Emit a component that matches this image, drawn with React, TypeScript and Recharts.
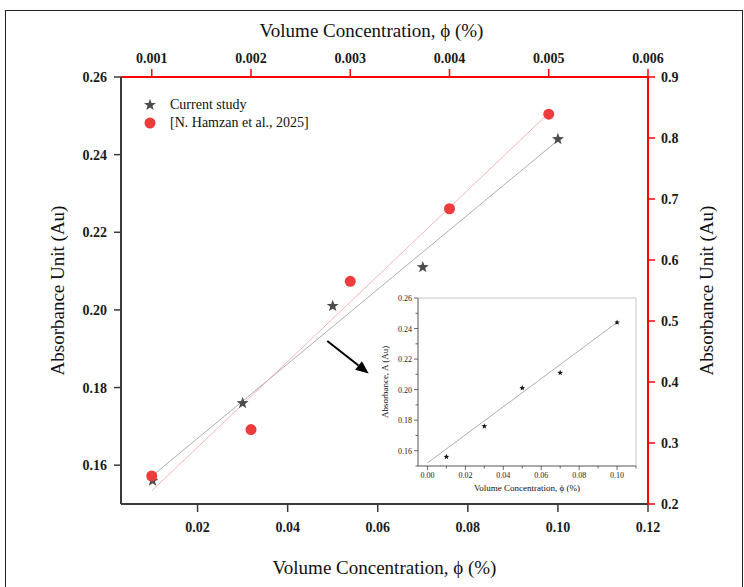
import { type ReactElement } from 'react'
import {
  ScatterChart,
  Scatter,
  XAxis,
  YAxis,
  Legend,
  ReferenceLine,
} from 'recharts'

const SERIF = '"Liberation Serif", "Times New Roman", serif'
const X_TITLE = 'Volume Concentration,  \u03d5 (%)'
const Y_TITLE = 'Absorbance Unit (Au)'

// current study (bottom x / left y)
const currentX = [0.01, 0.03, 0.05, 0.07, 0.1]
const currentY = [0.156, 0.176, 0.201, 0.211, 0.244]
// N. Hamzan et al. (top x / right y)
const hamzanX = [0.001, 0.002, 0.003, 0.004, 0.005]
const hamzanY = [0.246, 0.322, 0.565, 0.684, 0.839]

// linear fit ends
const currentFitX = [0.01, 0.1]
const currentFitY = [0.1573, 0.2437]
const hamzanFitX = [0.001, 0.005]
const hamzanFitY = [0.2216, 0.8408]
const insetFitX = [0, 0.1]
const insetFitY = [0.152, 0.244]

const bottomTicks = [0.02, 0.04, 0.06, 0.08, 0.1, 0.12]
const topTicks = [0.001, 0.002, 0.003, 0.004, 0.005, 0.006]
const leftTicks = [0.16, 0.18, 0.2, 0.22, 0.24, 0.26]
const rightTicks = [0.2, 0.3, 0.4, 0.5, 0.6, 0.7, 0.8, 0.9]
const insetXTicks = [0, 0.01, 0.02, 0.03, 0.04, 0.05, 0.06, 0.07, 0.08, 0.09, 0.1, 0.11]
const insetYTicks = [0.15, 0.16, 0.17, 0.18, 0.19, 0.2, 0.21, 0.22, 0.23, 0.24, 0.25, 0.26]

const toPoints = (xs: number[], ys: number[]) => xs.map((x, i) => ({ x, y: ys[i] }))

const currentData = toPoints(currentX, currentY)
const hamzanData = toPoints(hamzanX, hamzanY)
const currentFit = toPoints(currentFitX, currentFitY)
const hamzanFit = toPoints(hamzanFitX, hamzanFitY)
const insetFit = toPoints(insetFitX, insetFitY)

const STAR = '#4d4d4d'
const RED = '#ee3b3b'
const DARK = '#3a3a3a'

function starPoints(cx: number, cy: number, R: number, r: number): string {
  const pts: string[] = []
  for (let i = 0; i < 10; i++) {
    const a = -Math.PI / 2 + (i * Math.PI) / 5
    const rad = i % 2 === 0 ? R : r
    pts.push(`${cx + rad * Math.cos(a)},${cy + rad * Math.sin(a)}`)
  }
  return pts.join(' ')
}

const StarMark = (p: any) => <polygon points={starPoints(p.cx, p.cy, 6.3, 2.6)} fill={STAR} />
const SmallStar = (p: any) => <polygon points={starPoints(p.cx, p.cy, 3, 1.25)} fill="#111" />
const Dot = (p: any) => <circle cx={p.cx} cy={p.cy} r={5.5} fill={RED} />
const NoMark = () => <g />

const tickStyle = { fill: '#1a1a1a', fontSize: 14, fontWeight: 'bold', fontFamily: SERIF }
const titleProps = { fontFamily: SERIF, fontSize: 19, fill: '#111' }

const renderLegend = () => (
  <div style={{ fontFamily: SERIF, fontSize: 14, color: '#111', lineHeight: '18px' }}>
    <div style={{ display: 'flex', alignItems: 'center', height: 18 }}>
      <svg width={18} height={18}>
        <polygon points={starPoints(9, 9, 6.3, 2.6)} fill={STAR} />
      </svg>
      <span style={{ marginLeft: 11 }}>Current study</span>
    </div>
    <div style={{ display: 'flex', alignItems: 'center', height: 18 }}>
      <svg width={18} height={18}>
        <circle cx={9} cy={9} r={5.5} fill={RED} />
      </svg>
      <span style={{ marginLeft: 11 }}>[N. Hamzan et al., 2025]</span>
    </div>
  </div>
)

const Arrow = (p: any) => {
  const { x1, y1, x2, y2 } = p
  const ang = Math.atan2(y2 - y1, x2 - x1)
  const len = 13
  const w = 5.5
  const bx = x2 - len * Math.cos(ang)
  const by = y2 - len * Math.sin(ang)
  const nx = -Math.sin(ang) * w
  const ny = Math.cos(ang) * w
  return (
    <g>
      <line x1={x1} y1={y1} x2={bx} y2={by} stroke="#000" strokeWidth={2} />
      <polygon points={`${x2},${y2} ${bx + nx},${by + ny} ${bx - nx},${by - ny}`} fill="#000" />
    </g>
  )
}

const InsetXTick = (p: any) => {
  const v = p.payload.value
  const major = Math.round(v * 100) % 2 === 0
  return (
    <g>
      <line x1={p.x} x2={p.x} y1={p.y} y2={p.y + (major ? 4 : 2.5)} stroke="#444" strokeWidth={0.8} />
      {major && (
        <text x={p.x} y={p.y + 12} textAnchor="middle" fontSize={8} fontFamily={SERIF} fill="#222">
          {v.toFixed(2)}
        </text>
      )}
    </g>
  )
}

const InsetYTick = (p: any) => {
  const v = p.payload.value
  const major = Math.round(v * 100) % 2 === 0
  return (
    <g>
      <line x1={p.x - (major ? 4 : 2.5)} x2={p.x} y1={p.y} y2={p.y} stroke="#444" strokeWidth={0.8} />
      {major && (
        <text x={p.x - 6} y={p.y + 3} textAnchor="end" fontSize={8} fontFamily={SERIF} fill="#222">
          {v.toFixed(2)}
        </text>
      )}
    </g>
  )
}

function Inset(): ReactElement {
  return (
    <div style={{ position: 'absolute', left: 370, top: 288, width: 270, height: 210 }}>
      <ScatterChart width={270} height={210} margin={{ top: 10, right: 4, bottom: 0, left: 0 }}>
        <XAxis
          dataKey="x"
          type="number"
          domain={[-0.005, 0.11]}
          ticks={insetXTicks}
          interval={0}
          allowDataOverflow
          height={32}
          tickSize={0}
          tickMargin={0}
          tickLine={false}
          axisLine={{ stroke: '#555', strokeWidth: 1 }}
          tick={InsetXTick}
          label={{
            value: 'Volume Concentration, \u03d5 (%)',
            position: 'insideBottom',
            offset: 7,
            style: { fontFamily: SERIF, fontSize: 9, fill: '#111' },
          }}
        />
        <YAxis
          dataKey="y"
          type="number"
          domain={[0.15, 0.26]}
          ticks={insetYTicks}
          interval={0}
          allowDataOverflow
          width={48}
          tickSize={0}
          tickMargin={0}
          tickLine={false}
          axisLine={{ stroke: '#555', strokeWidth: 1 }}
          tick={InsetYTick}
          label={(props: any) => {
            const vb = props.viewBox
            const cx = vb.x + 15
            const cy = vb.y + vb.height / 2
            return (
              <text
                x={cx}
                y={cy}
                transform={`rotate(-90 ${cx} ${cy})`}
                textAnchor="middle"
                dominantBaseline="central"
                fontFamily={SERIF}
                fontSize={9}
                fill="#111"
              >
                Absorbance, A (Au)
              </text>
            )
          }}
        />
        <ReferenceLine y={0.26} stroke="#c8c8c8" strokeWidth={1} />
        <ReferenceLine x={0.11} stroke="#c8c8c8" strokeWidth={1} />
        <Scatter
          data={insetFit}
          line={{ stroke: '#8a8a8a', strokeWidth: 0.7 }}
          shape={NoMark}
          isAnimationActive={false}
        />
        <Scatter data={currentData} shape={SmallStar} isAnimationActive={false} />
      </ScatterChart>
    </div>
  )
}

export default function App(): ReactElement {
  return (
    <div
      style={{
        position: 'absolute',
        left: 0,
        top: 0,
        width: 744,
        height: 587,
        overflow: 'hidden',
        background: '#fff',
      }}
    >
      <div
        style={{
          position: 'absolute',
          left: 5,
          top: 10,
          width: 738,
          height: 620,
          border: '1px solid #222',
          boxSizing: 'border-box',
        }}
      />
      <ScatterChart width={744} height={587} margin={{ top: 0, right: 0, bottom: 0, left: 0 }}>
        <XAxis
          xAxisId="bottom"
          dataKey="x"
          type="number"
          orientation="bottom"
          domain={[0.003, 0.12]}
          ticks={bottomTicks}
          interval={0}
          allowDataOverflow
          height={83}
          tickSize={8}
          tickMargin={10}
          tickFormatter={(v: number) => v.toFixed(2)}
          tick={tickStyle}
          axisLine={{ stroke: DARK, strokeWidth: 2 }}
          tickLine={{ stroke: DARK, strokeWidth: 1.5 }}
          label={{ value: X_TITLE, position: 'insideBottom', offset: 13, style: titleProps }}
        />
        <XAxis
          xAxisId="top"
          dataKey="x"
          type="number"
          orientation="top"
          domain={[0.00069, 0.006]}
          ticks={topTicks}
          interval={0}
          allowDataOverflow
          height={77}
          tickSize={8}
          tickMargin={6}
          tickFormatter={(v: number) => v.toFixed(3)}
          tick={tickStyle}
          axisLine={{ stroke: '#ff0000', strokeWidth: 2 }}
          tickLine={{ stroke: '#ff0000', strokeWidth: 1.5 }}
          label={(props: any) => {
            const vb = props.viewBox
            return (
              <text
                x={vb.x + vb.width / 2 - 13}
                y={37}
                textAnchor="middle"
                {...titleProps}
              >
                {X_TITLE}
              </text>
            )
          }}
        />
        <YAxis
          yAxisId="left"
          dataKey="y"
          type="number"
          orientation="left"
          domain={[0.15, 0.26]}
          ticks={leftTicks}
          interval={0}
          allowDataOverflow
          width={121}
          tickSize={7}
          tickMargin={7}
          tickFormatter={(v: number) => v.toFixed(2)}
          tick={tickStyle}
          axisLine={{ stroke: DARK, strokeWidth: 2 }}
          tickLine={{ stroke: DARK, strokeWidth: 1.5 }}
          label={(props: any) => {
            const vb = props.viewBox
            const cx = vb.x + 57
            const cy = vb.y + vb.height / 2
            return (
              <text
                x={cx}
                y={cy}
                transform={`rotate(-90 ${cx} ${cy})`}
                textAnchor="middle"
                dominantBaseline="central"
                {...titleProps}
              >
                {Y_TITLE}
              </text>
            )
          }}
        />
        <YAxis
          yAxisId="right"
          dataKey="y"
          type="number"
          orientation="right"
          domain={[0.2, 0.9]}
          ticks={rightTicks}
          interval={0}
          allowDataOverflow
          width={96}
          tickSize={7}
          tickMargin={6}
          tickFormatter={(v: number) => v.toFixed(1)}
          tick={tickStyle}
          axisLine={{ stroke: '#ff0000', strokeWidth: 2 }}
          tickLine={{ stroke: '#ff0000', strokeWidth: 1.5 }}
          label={(props: any) => {
            const vb = props.viewBox
            const cx = vb.x + 58.5
            const cy = vb.y + vb.height / 2
            return (
              <text
                x={cx}
                y={cy}
                transform={`rotate(-90 ${cx} ${cy})`}
                textAnchor="middle"
                dominantBaseline="central"
                {...titleProps}
              >
                {Y_TITLE}
              </text>
            )
          }}
        />
        <Legend
          layout="horizontal"
          verticalAlign="middle"
          align="center"
          wrapperStyle={{ left: 141, top: 96, width: 260 }}
          content={renderLegend}
        />
        <Scatter
          xAxisId="bottom"
          yAxisId="left"
          data={currentFit}
          line={{ stroke: '#9a9a9a', strokeWidth: 0.8 }}
          shape={NoMark}
          legendType="none"
          isAnimationActive={false}
        />
        <Scatter
          xAxisId="top"
          yAxisId="right"
          data={hamzanFit}
          line={{ stroke: '#f6a5a5', strokeWidth: 0.8 }}
          shape={NoMark}
          legendType="none"
          isAnimationActive={false}
        />
        <Scatter
          name="Current study"
          xAxisId="bottom"
          yAxisId="left"
          data={currentData}
          shape={StarMark}
          isAnimationActive={false}
        />
        <Scatter
          name="[N. Hamzan et al., 2025]"
          xAxisId="top"
          yAxisId="right"
          data={hamzanData}
          shape={Dot}
          isAnimationActive={false}
        />
        <ReferenceLine
          xAxisId="bottom"
          yAxisId="left"
          segment={[
            { x: 0.0488, y: 0.192 },
            { x: 0.058, y: 0.1836 },
          ]}
          shape={Arrow}
          ifOverflow="visible"
        />
      </ScatterChart>
      <Inset />
    </div>
  )
}
